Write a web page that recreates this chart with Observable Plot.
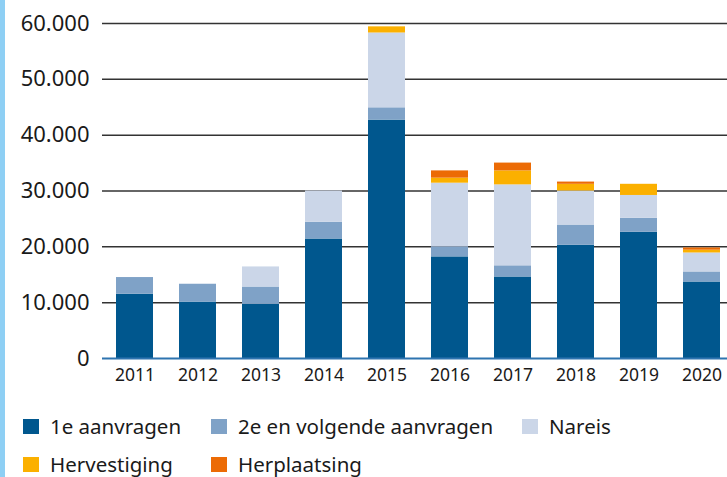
<!DOCTYPE html>
<html><head><meta charset="utf-8">
<script src="https://cdn.jsdelivr.net/npm/d3@7"></script>
<script src="https://cdn.jsdelivr.net/npm/@observablehq/plot@0.6"></script>
<style>
body{margin:0;background:#fff;font-family:"Noto Sans",sans-serif;}
#wrap{position:relative;width:727px;height:477px;overflow:hidden;}
#strip{position:absolute;left:0;top:0;width:5px;height:477px;background:#8ecff4;}
#chart{position:absolute;left:0;top:0;}
#legend{position:absolute;left:23px;top:414px;display:grid;grid-template-columns:188px 311px auto;row-gap:14px;}
.item{display:flex;align-items:center;height:24px;font-size:20.5px;color:#1a1a1a;white-space:nowrap;}
.sw{width:16px;height:15px;margin-right:11px;flex:none;}
</style>
</head><body>
<div id="wrap"><div id="strip"></div><div id="chart"></div><div id="legend"></div></div>
<script>
const years = ["2011","2012","2013","2014","2015","2016","2017","2018","2019","2020"];
const seriesNames = ["1e aanvragen","2e en volgende aanvragen","Nareis","Hervestiging","Herplaatsing"];
const seriesColors = ["#00578e","#7fa2c7","#cbd6e8","#fbb000","#ec6b05"];
const eersteAanvragen = [11500,10100,9700,21400,42700,18200,14600,20300,22600,13700];
const tweedeAanvragen = [3000,3200,3100,3000,2200,1800,2000,3600,2500,1800];
const nareis = [0,0,3600,5600,13400,11400,14500,6100,4100,3400];
const hervestiging = [0,0,0,0,1100,900,2500,1200,2000,500];
const herplaatsing = [0,0,0,0,0,1300,1400,400,0,400];
const yTicks = [0,10000,20000,30000,40000,50000,60000];

const seriesValues = [eersteAanvragen, tweedeAanvragen, nareis, hervestiging, herplaatsing];
const data = [];
seriesNames.forEach((s, i) => years.forEach((y, j) => data.push({year: y, series: s, value: seriesValues[i][j]})));

const fmt = d => d3.format(",")(d).replace(/,/g, ".");

const chart = Plot.plot({
  width: 727, height: 390,
  marginLeft: 102, marginRight: 0, marginTop: 23, marginBottom: 32,
  style: {fontFamily: "Noto Sans", color: "#1a1a1a", background: "transparent"},
  x: {type: "band", domain: years, range: [102, 733], paddingInner: 0.414, paddingOuter: 0.207, align: 0.5},
  y: {domain: [0, 60000], range: [358, 23]},
  color: {domain: seriesNames, range: seriesColors},
  marks: [
    Plot.ruleY(yTicks.filter(d => d > 0), {stroke: "#333", strokeWidth: 1.5}),
    Plot.barY(data, {x: "year", y: "value", fill: "series", inset: 0}),
    Plot.ruleY([0], {stroke: "#2e74b0", strokeWidth: 2}),
    Plot.axisY({ticks: yTicks, tickSize: 0, tickPadding: 13, fontSize: 22, tickFormat: fmt, label: null}),
    Plot.axisX({tickSize: 0, tickPadding: 10, fontSize: 17.5, label: null})
  ]
});
document.getElementById("chart").appendChild(chart);

const legend = document.getElementById("legend");
seriesNames.forEach((s, i) => {
  const it = document.createElement("div");
  it.className = "item";
  const sw = document.createElement("span");
  sw.className = "sw";
  sw.style.background = seriesColors[i];
  const t = document.createElement("span");
  t.textContent = s;
  it.appendChild(sw); it.appendChild(t);
  legend.appendChild(it);
});
</script>
</body></html>
